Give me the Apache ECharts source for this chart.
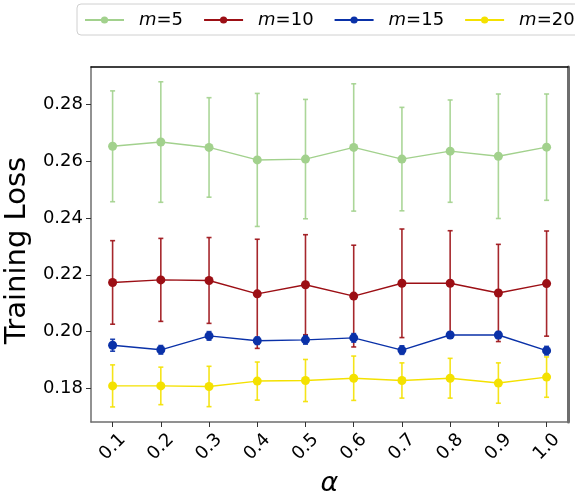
<!DOCTYPE html>
<html>
<head>
<meta charset="utf-8">
<script src="https://cdn.jsdelivr.net/npm/echarts@6/dist/echarts.min.js"></script>
<style>
  html, body { margin: 0; padding: 0; background: #fff; }
  #chart { width: 575px; height: 493px; }
</style>
</head>
<body>
<div id="chart"></div>
<script>
// alpha values on the x axis
const alphas = [0.1, 0.2, 0.3, 0.4, 0.5, 0.6, 0.7, 0.8, 0.9, 1.0];
const yTicks = [0.18, 0.20, 0.22, 0.24, 0.26, 0.28];

// mean training loss and its spread (half-width of the error bar) per m
const lossM5  = [0.2652, 0.2667, 0.2648, 0.2604, 0.2607, 0.2648, 0.2607, 0.2635, 0.2617, 0.2649];
const errM5   = [0.0195, 0.0212, 0.0175, 0.0234, 0.0210, 0.0224, 0.0182, 0.0180, 0.0219, 0.0187];
const lossM10 = [0.2173, 0.2182, 0.2180, 0.2133, 0.2165, 0.2125, 0.2170, 0.2170, 0.2136, 0.2169];
const errM10  = [0.0147, 0.0146, 0.0151, 0.0192, 0.0176, 0.0179, 0.0191, 0.0185, 0.0171, 0.0185];
const lossM15 = [0.1952, 0.1936, 0.1985, 0.1968, 0.1971, 0.1978, 0.1935, 0.1988, 0.1988, 0.1933];
const errM15  = [0.0021, 0.0015, 0.0015, 0.0013, 0.0015, 0.0015, 0.0015, 0.0010, 0.0012, 0.0015];
const lossM20 = [0.1809, 0.1809, 0.1807, 0.1826, 0.1828, 0.1836, 0.1828, 0.1836, 0.1819, 0.1840];
const errM20  = [0.0074, 0.0066, 0.0071, 0.0067, 0.0074, 0.0078, 0.0062, 0.0070, 0.0071, 0.0071];

const groups = [
  { m: 5,  loss: lossM5,  err: errM5,  color: '#a2d18d' },
  { m: 10, loss: lossM10, err: errM10, color: '#9c0f15' },
  { m: 15, loss: lossM15, err: errM15, color: '#0a31a8' },
  { m: 20, loss: lossM20, err: errM20, color: '#f4e100' }
];

const FONT = 'DejaVu Sans';
const X_MIN = 0.0552, X_MAX = 1.0444;
const Y_MIN = 0.1682, Y_MAX = 0.2931;

// vertical error bar with small caps
function errorBar(color) {
  return function (params, api) {
    const x = api.value(0);
    const lo = api.coord([x, api.value(1)]);
    const hi = api.coord([x, api.value(2)]);
    const cap = 2.5;
    const style = { stroke: color, lineWidth: 1.6, opacity: 0.9 };
    return {
      type: 'group',
      children: [
        { type: 'line', shape: { x1: hi[0], y1: hi[1], x2: lo[0], y2: lo[1] }, style: style },
        { type: 'line', shape: { x1: hi[0] - cap, y1: hi[1], x2: hi[0] + cap, y2: hi[1] }, style: style },
        { type: 'line', shape: { x1: lo[0] - cap, y1: lo[1], x2: lo[0] + cap, y2: lo[1] }, style: style }
      ]
    };
  };
}

const series = [];
groups.forEach(function (g, i) {
  series.push({
    name: 'err' + g.m,
    type: 'custom',
    xAxisIndex: 0,
    yAxisIndex: 0,
    z: 2 + i * 2,
    silent: true,
    renderItem: errorBar(g.color),
    encode: { x: 0, y: [1, 2] },
    data: alphas.map(function (a, k) { return [a, g.loss[k] - g.err[k], g.loss[k] + g.err[k]]; })
  });
  series.push({
    name: 'm' + g.m,
    type: 'line',
    xAxisIndex: 0,
    yAxisIndex: 0,
    z: 3 + i * 2,
    symbol: 'circle',
    symbolSize: 9,
    showSymbol: true,
    color: g.color,
    lineStyle: { color: g.color, width: 1.4 },
    itemStyle: { color: g.color },
    emphasis: { disabled: true },
    data: alphas.map(function (a, k) { return [a, g.loss[k]]; })
  });
});

const chart = echarts.init(document.getElementById('chart'), null, { renderer: 'canvas' });
chart.setOption({
  animation: false,
  backgroundColor: '#fff',
  textStyle: { fontFamily: FONT },
  grid: { left: 91, right: 7, top: 67, bottom: 71, containLabel: false, outerBoundsMode: 'none' },
  legend: {
    data: groups.map(function (g) { return 'm' + g.m; }),
    left: 77,
    top: 4,
    width: 640,
    orient: 'horizontal',
    itemWidth: 39,
    itemHeight: 9,
    itemGap: 20,
    padding: [7, 10, 6, 7],
    borderColor: '#d0d0d0',
    borderWidth: 1,
    borderRadius: 4,
    formatter: function (name) { return '{i|m}=' + name.slice(1); },
    textStyle: {
      fontFamily: FONT,
      fontSize: 18,
      color: '#000',
      padding: [0, 0, 0, 10],
      rich: { i: { fontFamily: FONT, fontSize: 18, fontStyle: 'italic', color: '#000' } }
    }
  },
  xAxis: [{
    type: 'value',
    position: 'bottom',
    min: X_MIN,
    max: X_MAX,
    name: 'α',
    nameLocation: 'middle',
    nameGap: 44,
    nameTextStyle: { fontFamily: FONT, fontSize: 27, fontStyle: 'italic', color: '#000' },
    splitLine: { show: false },
    axisLine: { show: true, lineStyle: { color: '#6e6e6e', width: 1.5 } },
    axisTick: { show: true, length: 5, customValues: alphas, lineStyle: { color: '#333', width: 1 } },
    axisLabel: {
      customValues: alphas,
      rotate: 45,
      align: 'center',
      verticalAlign: 'middle',
      margin: 25,
      fontFamily: FONT,
      fontSize: 18,
      color: '#000',
      formatter: function (v) { return v.toFixed(1); }
    }
  }, {
    type: 'value',
    position: 'top',
    min: X_MIN,
    max: X_MAX,
    splitLine: { show: false },
    axisLine: { show: true, onZero: false, lineStyle: { color: '#000', width: 1.5 } },
    axisTick: { show: false },
    axisLabel: { show: false }
  }],
  yAxis: [{
    type: 'value',
    position: 'left',
    min: Y_MIN,
    max: Y_MAX,
    name: 'Training Loss',
    nameLocation: 'middle',
    nameGap: 53,
    nameTextStyle: { fontFamily: FONT, fontSize: 29, color: '#000', padding: [0, 12, 0, 0] },
    splitLine: { show: false },
    axisLine: { show: true, lineStyle: { color: '#6e6e6e', width: 1.5 } },
    axisTick: { show: true, length: 5, customValues: yTicks, lineStyle: { color: '#333', width: 1 } },
    axisLabel: {
      customValues: yTicks,
      margin: 8,
      fontFamily: FONT,
      fontSize: 18,
      color: '#000',
      formatter: function (v) { return v.toFixed(2); }
    }
  }, {
    type: 'value',
    position: 'right',
    min: Y_MIN,
    max: Y_MAX,
    splitLine: { show: false },
    axisLine: { show: true, onZero: false, lineStyle: { color: '#6e6e6e', width: 3 } },
    axisTick: { show: false },
    axisLabel: { show: false }
  }],
  series: series
});
</script>
</body>
</html>
